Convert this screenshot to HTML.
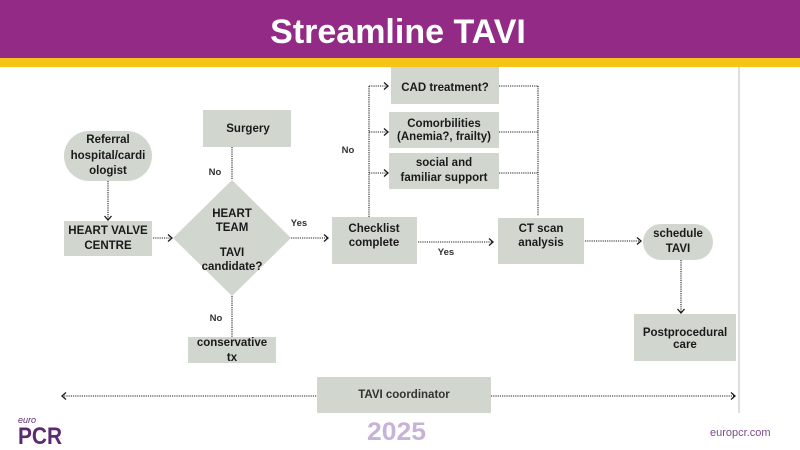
<!DOCTYPE html>
<html>
<head>
<meta charset="utf-8">
<style>
  html,body{margin:0;padding:0;background:#fff;}
  body{width:800px;height:450px;overflow:hidden;}
  svg{display:block;}
  .n{font-family:"Liberation Sans",Arial,sans-serif;font-weight:bold;font-size:11.5px;fill:#1a1a1a;text-anchor:middle;}
  .l{font-family:"Liberation Sans",Arial,sans-serif;font-weight:bold;font-size:9.5px;fill:#333;text-anchor:middle;}
  .d{fill:none;stroke:#222;stroke-width:1.1;stroke-dasharray:1.2 1;}
  .a{fill:none;stroke:#1a1a1a;stroke-width:1.3;}
  .b{fill:#d1d7cf;}
</style>
</head>
<body>
<svg width="800" height="450" viewBox="0 0 800 450" xmlns="http://www.w3.org/2000/svg">
  <!-- header -->
  <rect x="0" y="0" width="800" height="59" fill="#922a86"/>
  <rect x="0" y="58" width="800" height="9" fill="#f5c416"/>
  <text x="398" y="43" font-family="Liberation Sans, Arial, sans-serif" font-weight="bold" font-size="34" fill="#ffffff" text-anchor="middle">Streamline TAVI</text>

  <!-- right gray divider -->
  <line x1="739" y1="67" x2="739" y2="413" stroke="#d4d4d4" stroke-width="1.5"/>

  <!-- Referral -->
  <rect class="b" x="64" y="131" width="88" height="50" rx="25" ry="25"/>
  <text class="n" x="108" y="143">Referral</text>
  <text class="n" x="108" y="159">hospital/cardi</text>
  <text class="n" x="108" y="174">ologist</text>

  <!-- Referral -> HVC -->
  <line class="d" x1="108" y1="181" x2="108" y2="220"/>
  <polyline class="a" points="104.5,216 108,220 111.5,216"/>

  <!-- HEART VALVE CENTRE -->
  <rect class="b" x="64" y="221" width="88" height="35"/>
  <text class="n" x="108" y="234">HEART VALVE</text>
  <text class="n" x="108" y="249">CENTRE</text>

  <!-- HVC -> diamond -->
  <line class="d" x1="153" y1="238" x2="172" y2="238"/>
  <polyline class="a" points="168,234.5 172,238 168,241.5"/>

  <!-- Diamond -->
  <polygon class="b" points="232,180 291,238 232,296 173,238"/>
  <text class="n" x="232" y="217">HEART</text>
  <text class="n" x="232" y="231">TEAM</text>
  <text class="n" x="232" y="256">TAVI</text>
  <text class="n" x="232" y="270">candidate?</text>

  <!-- Surgery -->
  <rect class="b" x="203" y="110" width="88" height="37"/>
  <text class="n" x="248" y="132">Surgery</text>
  <line class="d" x1="232" y1="147" x2="232" y2="180"/>
  <text class="l" x="215" y="175">No</text>

  <!-- conservative tx -->
  <line class="d" x1="232" y1="296" x2="232" y2="337"/>
  <text class="l" x="216" y="321">No</text>
  <rect class="b" x="188" y="337" width="88" height="26"/>
  <text class="n" x="232" y="346">conservative</text>
  <text class="n" x="232" y="361">tx</text>

  <!-- diamond -> checklist -->
  <line class="d" x1="291" y1="238" x2="328" y2="238"/>
  <polyline class="a" points="324,234.5 328,238 324,241.5"/>
  <text class="l" x="299" y="226">Yes</text>

  <!-- Checklist -->
  <rect class="b" x="332" y="217" width="85" height="47"/>
  <text class="n" x="374" y="232">Checklist</text>
  <text class="n" x="374" y="246">complete</text>

  <!-- Checklist -> CT -->
  <line class="d" x1="418" y1="242" x2="493" y2="242"/>
  <polyline class="a" points="489,238.5 493,242 489,245.5"/>
  <text class="l" x="446" y="255">Yes</text>

  <!-- branch up -->
  <line class="d" x1="369" y1="217" x2="369" y2="86"/>
  <line class="d" x1="369" y1="86" x2="388" y2="86"/>
  <polyline class="a" points="384,82.5 388,86 384,89.5"/>
  <line class="d" x1="369" y1="132" x2="388" y2="132"/>
  <polyline class="a" points="384,128.5 388,132 384,135.5"/>
  <line class="d" x1="369" y1="173" x2="388" y2="173"/>
  <polyline class="a" points="384,169.5 388,173 384,176.5"/>
  <text class="l" x="348" y="153">No</text>

  <!-- CAD -->
  <rect class="b" x="391" y="67" width="108" height="37"/>
  <text class="n" x="445" y="91">CAD treatment?</text>

  <!-- Comorbilities -->
  <rect class="b" x="389" y="112" width="110" height="36"/>
  <text class="n" x="444" y="127">Comorbilities</text>
  <text class="n" x="444" y="140">(Anemia?, frailty)</text>

  <!-- social -->
  <rect class="b" x="389" y="153" width="110" height="36"/>
  <text class="n" x="444" y="166">social and</text>
  <text class="n" x="444" y="181">familiar support</text>

  <!-- right collector -->
  <line class="d" x1="499" y1="86" x2="538" y2="86"/>
  <line class="d" x1="499" y1="132" x2="538" y2="132"/>
  <line class="d" x1="499" y1="173" x2="538" y2="173"/>
  <line class="d" x1="538" y1="86" x2="538" y2="216"/>

  <!-- CT scan -->
  <rect class="b" x="498" y="218" width="86" height="46"/>
  <text class="n" x="541" y="232">CT scan</text>
  <text class="n" x="541" y="246">analysis</text>

  <!-- CT -> schedule -->
  <line class="d" x1="585" y1="241" x2="641" y2="241"/>
  <polyline class="a" points="637,237.5 641,241 637,244.5"/>

  <!-- schedule TAVI -->
  <rect class="b" x="643" y="224" width="70" height="36" rx="18" ry="18"/>
  <text class="n" x="678" y="237">schedule</text>
  <text class="n" x="678" y="252">TAVI</text>

  <!-- schedule -> post -->
  <line class="d" x1="681" y1="260" x2="681" y2="313"/>
  <polyline class="a" points="677.5,309 681,313 684.5,309"/>

  <!-- Postprocedural -->
  <rect class="b" x="634" y="314" width="102" height="47"/>
  <text class="n" x="685" y="336">Postprocedural</text>
  <text class="n" x="685" y="348">care</text>

  <!-- TAVI coordinator -->
  <line class="d" x1="62" y1="396" x2="317" y2="396"/>
  <polyline class="a" points="66,392.5 62,396 66,399.5"/>
  <line class="d" x1="491" y1="396" x2="735" y2="396"/>
  <polyline class="a" points="731,392.5 735,396 731,399.5"/>
  <rect class="b" x="317" y="377" width="174" height="36"/>
  <text x="404" y="398" font-family="Liberation Sans, Arial, sans-serif" font-weight="bold" font-size="11.5" fill="#333" text-anchor="middle">TAVI coordinator</text>

  <!-- footer -->
  <text x="18" y="423" font-family="Liberation Sans, Arial, sans-serif" font-style="italic" font-size="9" fill="#5b2a72">euro</text>
  <text x="18" y="444" font-family="Liberation Sans, Arial, sans-serif" font-weight="bold" font-size="24" fill="#5b2a72" textLength="44" lengthAdjust="spacingAndGlyphs">PCR</text>
  <text x="367" y="440" font-family="Liberation Sans, Arial, sans-serif" font-weight="bold" font-size="25" fill="#c8b3d8" textLength="59" lengthAdjust="spacingAndGlyphs">2025</text>
  <text x="710" y="436" font-family="Liberation Sans, Arial, sans-serif" font-size="11" fill="#7a4b8c">europcr.com</text>
</svg>
</body>
</html>
